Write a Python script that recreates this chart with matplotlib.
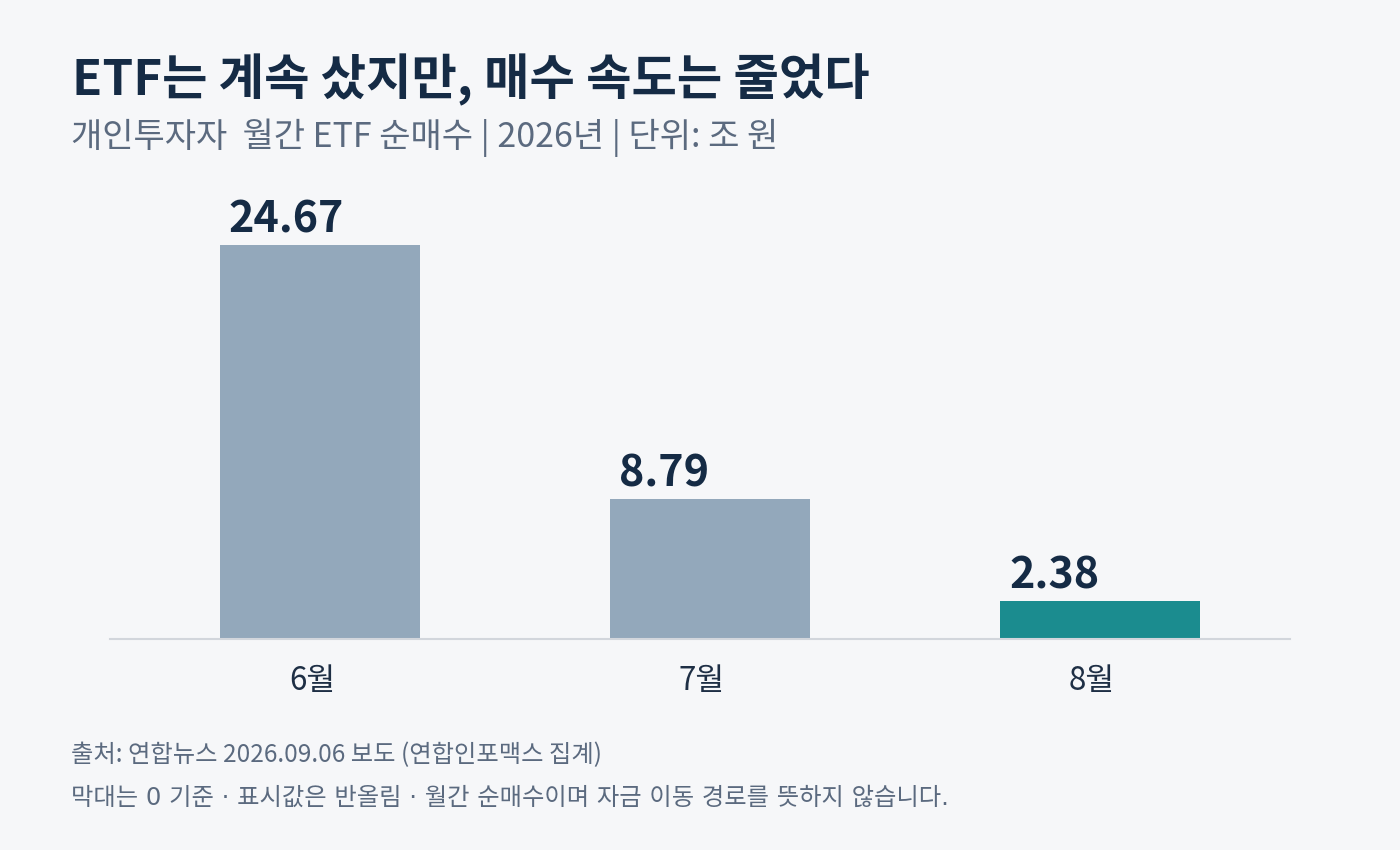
import matplotlib
matplotlib.use("Agg")
import matplotlib.pyplot as plt
import matplotlib.transforms as mtransforms

plt.rcParams['font.family'] = ['Noto Sans CJK KR', 'DejaVu Sans']

months = ["6월", "7월", "8월"]
values = [24.67, 8.79, 2.38]
labels = ["24.67", "8.79", "2.38"]

title = "ETF는 계속 샀지만, 매수 속도는 줄었다"
subtitle = "개인투자자  월간 ETF 순매수 | 2026년 | 단위: 조 원"
source = "출처: 연합뉴스 2026.09.06 보도 (연합인포맥스 집계)"
note = "막대는 0 기준 · 표시값은 반올림 · 월간 순매수이며 자금 이동 경로를 뜻하지 않습니다."

BG = "#F6F7F9"
GRAY = "#93A8BB"
TEAL = "#1B8C8F"
NAVY = "#152B45"
SUB = "#5B6A7F"

fig = plt.figure(figsize=(14, 8.5), dpi=100, facecolor=BG)
ax = fig.add_axes([110/1400, (850-639)/850, 1180/1400, 449/850])
ax.set_facecolor(BG)

colors = [GRAY] * (len(values) - 1) + [TEAL]
width = 200/390
x = list(range(len(values)))
ax.bar(x, values, width=width, color=colors, edgecolor="none", zorder=2)

for xi, v, lab in zip(x, values, labels):
    ax.annotate(lab, xy=(xi - width/2, v), xytext=(6.5, 9), textcoords="offset points",
                ha="left", va="baseline", fontsize=31, fontweight="bold", color=NAVY)

ax.set_xlim(-0.538, 2.487)
ax.set_ylim(0, 28.11)
ax.set_xticks(x)
ax.set_xticklabels(months, fontsize=22.5, color="#1E2F45")
ax.tick_params(axis="x", length=0, pad=19)
shift = mtransforms.ScaledTranslation(-0.08, 0, fig.dpi_scale_trans)
for t in ax.get_xticklabels():
    t.set_transform(t.get_transform() + shift)
ax.set_yticks([])
for s in ["top", "right", "left"]:
    ax.spines[s].set_visible(False)
ax.spines["bottom"].set_color("#D2D6DC")
ax.spines["bottom"].set_linewidth(1.5)

fig.text(72/1400, 1 - 80/850, title, fontsize=35.5, fontweight="bold", color=NAVY,
         ha="left", va="center")
fig.text(71/1400, 1 - 138/850, subtitle, fontsize=24.5, color=SUB, ha="left", va="center")
fig.text(71/1400, 1 - 755/850, source, fontsize=17.5, color=SUB, ha="left", va="center")
fig.text(71/1400, 1 - 798/850, note, fontsize=17.5, color=SUB, ha="left", va="center",
         family=['DejaVu Sans', 'Noto Sans CJK KR'])

fig.savefig("out.png", dpi=100, facecolor=BG)
